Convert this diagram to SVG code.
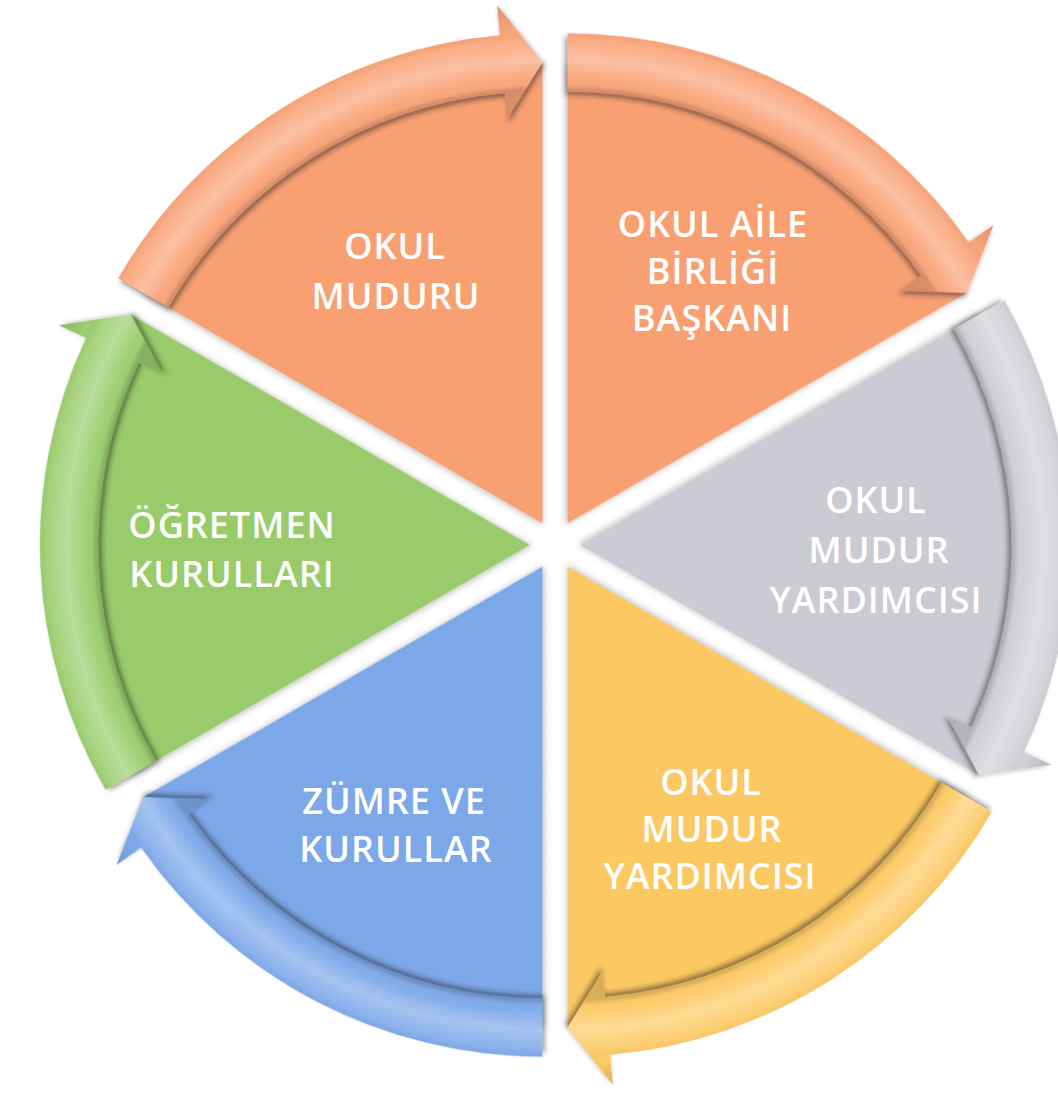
<svg xmlns="http://www.w3.org/2000/svg" xmlns:xlink="http://www.w3.org/1999/xlink" width="1058" height="1094" viewBox="0 0 1058 1094">
<style>
.lbl{font-family:"Open Sans","Liberation Sans",Arial,sans-serif;font-size:36px;font-weight:600;fill:#ffffff;text-anchor:middle;letter-spacing:1px}
</style>
<defs>
<filter id="bodyShadow" x="-10%" y="-10%" width="120%" height="120%">
<feDropShadow dx="0" dy="2" stdDeviation="3" flood-color="#444" flood-opacity="0.35"/>
</filter>
<filter id="bandShadow" x="-10%" y="-10%" width="120%" height="120%">
<feDropShadow dx="2" dy="3.5" stdDeviation="2.5" flood-color="#222" flood-opacity="0.5"/>
</filter>
<radialGradient id="bandShade" gradientUnits="userSpaceOnUse" cx="542.5" cy="523.35" r="520" fx="542.5" fy="523.35">
<stop offset="0.78" stop-color="#000" stop-opacity="0.15"/>
<stop offset="0.835" stop-color="#000" stop-opacity="0.14"/>
<stop offset="0.85" stop-color="#fff" stop-opacity="0"/>
<stop offset="0.89" stop-color="#fff" stop-opacity="0.3"/>
<stop offset="0.93" stop-color="#fff" stop-opacity="0.08"/>
<stop offset="0.95" stop-color="#000" stop-opacity="0"/>
<stop offset="1" stop-color="#000" stop-opacity="0.12"/>
</radialGradient>
<path id="sector" d="M542.5 523.35 L143.26 292.85 A461 461 0 0 1 542.5 62.35 Z"/>
<path id="band" d="M118.15 278.35 A490 490 0 0 1 499.79 35.22 L497.18 5.33 L542.5 62.35 L507.11 118.9 L504.85 93 A432 432 0 0 0 168.38 307.35 Z"/>
</defs>
<rect width="1058" height="1094" fill="#ffffff"/>
<g id="nodes">
<g id="node-okul-muduru">
<use xlink:href="#sector" fill="#F9A073" filter="url(#bodyShadow)"/>
<text class="lbl" x="395" y="259">OKUL</text>
<text class="lbl" x="396" y="309">MUDURU</text>
</g>
<g id="node-okul-aile-birligi">
<use xlink:href="#sector" fill="#F9A073" filter="url(#bodyShadow)" transform="rotate(60 555 545)"/>
<text class="lbl" x="713" y="237">OKUL AİLE</text>
<text class="lbl" x="713" y="284">BİRLİĞİ</text>
<text class="lbl" x="712" y="331">BAŞKANI</text>
</g>
<g id="node-mudur-yardimcisi-1">
<use xlink:href="#sector" fill="#CBCBD3" filter="url(#bodyShadow)" transform="rotate(120 555 545)"/>
<text class="lbl" x="876" y="513">OKUL</text>
<text class="lbl" x="879" y="563">MUDUR</text>
<text class="lbl" x="876" y="613">YARDIMCISI</text>
</g>
<g id="node-mudur-yardimcisi-2">
<use xlink:href="#sector" fill="#FCC862" filter="url(#bodyShadow)" transform="rotate(180 555 545)"/>
<text class="lbl" x="711" y="795">OKUL</text>
<text class="lbl" x="712" y="842">MUDUR</text>
<text class="lbl" x="710" y="889">YARDIMCISI</text>
</g>
<g id="node-zumre">
<use xlink:href="#sector" fill="#7BA7E8" filter="url(#bodyShadow)" transform="rotate(240 555 545)"/>
<text class="lbl" x="394" y="814">ZÜMRE VE</text>
<text class="lbl" x="396" y="862">KURULLAR</text>
</g>
<g id="node-ogretmen">
<use xlink:href="#sector" fill="#99CB6B" filter="url(#bodyShadow)" transform="rotate(300 555 545)"/>
<text class="lbl" x="232" y="538">ÖĞRETMEN</text>
<text class="lbl" x="232" y="587">KURULLARI</text>
</g>
</g>
<g id="connectors">
<g>
<use xlink:href="#band" fill="#FAA57A" filter="url(#bandShadow)"/>
<use xlink:href="#band" fill="url(#bandShade)"/>
</g>
<g transform="rotate(60 555 545)">
<use xlink:href="#band" fill="#FAA57A" filter="url(#bandShadow)"/>
<use xlink:href="#band" fill="url(#bandShade)"/>
</g>
<g transform="rotate(120 555 545)">
<use xlink:href="#band" fill="#D0D0D7" filter="url(#bandShadow)"/>
<use xlink:href="#band" fill="url(#bandShade)"/>
</g>
<g transform="rotate(180 555 545)">
<use xlink:href="#band" fill="#FDCB68" filter="url(#bandShadow)"/>
<use xlink:href="#band" fill="url(#bandShade)"/>
</g>
<g transform="rotate(240 555 545)">
<use xlink:href="#band" fill="#80AAEA" filter="url(#bandShadow)"/>
<use xlink:href="#band" fill="url(#bandShade)"/>
</g>
<g transform="rotate(300 555 545)">
<use xlink:href="#band" fill="#9DCE70" filter="url(#bandShadow)"/>
<use xlink:href="#band" fill="url(#bandShade)"/>
</g>
</g>
</svg>
